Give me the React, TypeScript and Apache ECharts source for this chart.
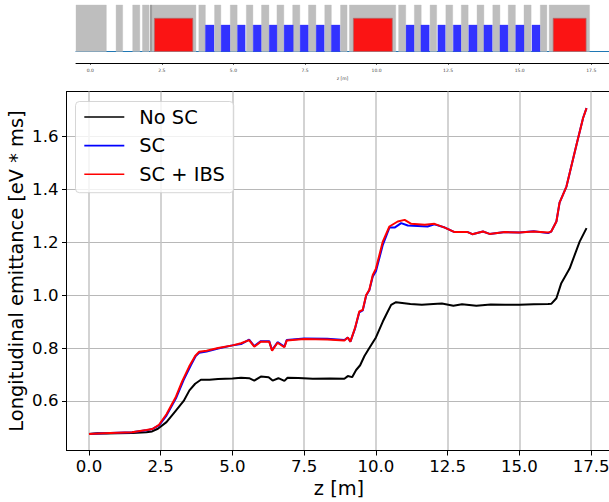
import React, { useEffect, useRef } from "react";
import * as echarts from "echarts";

const xTicks = [0, 2.5, 5, 7.5, 10, 12.5, 15, 17.5];
const yTicks = [0.6, 0.8, 1.0, 1.2, 1.4, 1.6];

const noScZ = [0, 0.3, 0.6, 1, 1.5, 2, 2.2, 2.4, 2.7, 3, 3.3, 3.5, 3.7, 3.9, 4.2, 4.5, 5, 5.3, 5.58, 5.76, 5.99, 6.26, 6.4, 6.6, 6.81, 6.92, 7.3, 7.8, 8.4, 8.9, 9.02, 9.17, 9.31, 9.45, 9.6, 9.77, 10, 10.24, 10.4, 10.53, 10.7, 11.2, 11.6, 12, 12.3, 12.7, 13, 13.5, 14, 14.5, 15, 15.5, 16, 16.11, 16.29, 16.46, 16.75, 17.1, 17.34];
const noScValues = [0.475, 0.478, 0.477, 0.478, 0.479, 0.482, 0.485, 0.495, 0.52, 0.56, 0.6, 0.64, 0.665, 0.68, 0.68, 0.683, 0.685, 0.688, 0.686, 0.677, 0.692, 0.69, 0.677, 0.686, 0.676, 0.688, 0.687, 0.684, 0.685, 0.684, 0.694, 0.69, 0.717, 0.735, 0.77, 0.8, 0.84, 0.9, 0.935, 0.963, 0.973, 0.966, 0.963, 0.966, 0.968, 0.96, 0.965, 0.96, 0.964, 0.963, 0.963, 0.965, 0.966, 0.967, 0.988, 1.045, 1.1, 1.202, 1.253];

const scZ = [0, 0.5, 1, 1.5, 2, 2.2, 2.44, 2.7, 3.03, 3.3, 3.55, 3.72, 3.84, 4.1, 4.5, 5, 5.3, 5.58, 5.76, 5.99, 6.28, 6.38, 6.57, 6.81, 6.89, 7.5, 8.3, 8.9, 9.02, 9.11, 9.27, 9.42, 9.54, 9.66, 9.77, 9.89, 10, 10.24, 10.47, 10.65, 10.88, 11.11, 11.8, 12.04, 12.4, 12.74, 13.2, 13.36, 13.73, 13.96, 14.5, 15, 15.5, 16, 16.11, 16.29, 16.4, 16.64, 16.99, 17.22, 17.34];
const scValues = [0.475, 0.478, 0.48, 0.482, 0.489, 0.494, 0.508, 0.545, 0.61, 0.68, 0.735, 0.77, 0.782, 0.787, 0.798, 0.81, 0.815, 0.832, 0.807, 0.826, 0.826, 0.792, 0.822, 0.805, 0.83, 0.836, 0.835, 0.83, 0.84, 0.824, 0.873, 0.935, 0.942, 0.998, 1.018, 1.07, 1.09, 1.19, 1.255, 1.255, 1.272, 1.263, 1.259, 1.267, 1.255, 1.238, 1.238, 1.23, 1.24, 1.231, 1.238, 1.236, 1.241, 1.234, 1.24, 1.278, 1.349, 1.41, 1.568, 1.669, 1.706];

const ibsZ = [0, 0.5, 1, 1.5, 2, 2.21, 2.44, 2.7, 3.03, 3.25, 3.49, 3.7, 3.84, 4.1, 4.5, 5, 5.3, 5.58, 5.76, 5.99, 6.28, 6.38, 6.57, 6.81, 6.89, 7.5, 8.3, 8.9, 9.02, 9.11, 9.27, 9.42, 9.54, 9.66, 9.77, 9.89, 10, 10.24, 10.47, 10.76, 11, 11.23, 11.7, 12.04, 12.4, 12.74, 13.2, 13.36, 13.73, 13.96, 14.5, 15, 15.5, 16, 16.11, 16.29, 16.4, 16.64, 16.99, 17.22, 17.34];
const ibsValues = [0.475, 0.478, 0.48, 0.482, 0.49, 0.494, 0.51, 0.55, 0.616, 0.675, 0.73, 0.77, 0.786, 0.79, 0.8, 0.81, 0.818, 0.83, 0.805, 0.824, 0.824, 0.79, 0.82, 0.803, 0.828, 0.834, 0.832, 0.828, 0.84, 0.824, 0.875, 0.938, 0.944, 1.0, 1.02, 1.076, 1.1, 1.202, 1.259, 1.278, 1.284, 1.269, 1.266, 1.269, 1.255, 1.238, 1.238, 1.23, 1.24, 1.231, 1.238, 1.236, 1.24, 1.236, 1.24, 1.278, 1.349, 1.41, 1.568, 1.669, 1.706];

const grayStarts = [-0.5, 0.9, 1.48, 1.82, 2.09, 3.79, 4.34, 4.89, 5.45, 5.98, 6.52, 7.07, 7.62, 8.19, 8.74, 9.05, 10.77, 11.32, 11.87, 12.42, 12.96, 13.51, 14.06, 14.6, 15.15, 15.72, 16.03];
const grayEnds = [0.56, 1.13, 1.73, 2.05, 3.69, 4.02, 4.56, 5.13, 5.68, 6.24, 6.76, 7.32, 7.88, 8.42, 8.97, 10.67, 11.02, 11.56, 12.1, 12.66, 13.2, 13.75, 14.31, 14.85, 15.4, 15.95, 17.44];
const darkStarts = [2.09];
const darkEnds = [2.15];
const redStarts = [2.24, 9.19, 16.17];
const redEnds = [3.58, 10.55, 17.32];
const blueStarts = [4.02, 4.57, 5.14, 5.69, 6.25, 6.77, 7.33, 7.89, 8.42, 11.03, 11.55, 12.14, 12.68, 13.22, 13.75, 14.31, 14.86, 15.43];
const blueEnds = [4.32, 4.88, 5.41, 5.97, 6.52, 7.09, 7.61, 8.17, 8.72, 11.31, 11.84, 12.4, 12.95, 13.51, 14.04, 14.59, 15.15, 15.71];
const grayHeight = 1;
const redHeight = 0.714;
const blueHeight = 0.57;

const FONT = "DejaVu Sans";
const LABEL_SIZE = 19.4;
const TICK_SIZE = 16.6;

function zip(a: number[], b: number[]) {
  return a.map((v, i) => [v, b[i]]);
}

function boxes(name: string, starts: number[], ends: number[], h: number, fill: string, stroke: string) {
  return {
    type: "custom",
    name,
    xAxisIndex: 1,
    yAxisIndex: 1,
    silent: true,
    encode: { x: [0, 1], y: 2 },
    data: starts.map((s, i) => [s, ends[i], h]),
    renderItem: (_: any, api: any) => {
      const p0 = api.coord([api.value(0), api.value(2)]);
      const p1 = api.coord([api.value(1), 0]);
      return {
        type: "rect",
        shape: { x: p0[0], y: p0[1], width: p1[0] - p0[0], height: p1[1] - p0[1] },
        style: { fill, stroke, lineWidth: 1 },
      };
    },
  };
}

export default function App() {
  const ref = useRef<HTMLDivElement>(null);
  useEffect(() => {
    document.body.style.margin = "0";
    const chart = echarts.init(ref.current!, undefined, { renderer: "svg" });
    const line = (name: string, z: number[], v: number[], color: string) => ({
      type: "line",
      name,
      xAxisIndex: 0,
      yAxisIndex: 0,
      data: zip(z, v),
      showSymbol: false,
      symbol: "none",
      smooth: false,
      lineStyle: { color, width: 2 },
      itemStyle: { color },
      z: 3,
    });
    chart.setOption({
      animation: false,
      textStyle: { fontFamily: FONT },
      grid: [
        { left: 66.5, top: 91.5, width: 545, height: 359, show: true, borderColor: "#000", borderWidth: 1, backgroundColor: "transparent", outerBoundsMode: "none" },
        { left: 76, top: 5, width: 533, height: 46.5, outerBoundsMode: "none" },
      ],
      legend: {
        left: 75.5,
        top: 101.5,
        orient: "vertical",
        data: ["No SC", "SC", "SC + IBS"],
        itemWidth: 40,
        itemHeight: 14,
        itemGap: 9.6,
        padding: [6, 9, 9, 8],
        backgroundColor: "rgba(255,255,255,0.8)",
        borderColor: "rgba(204,204,204,0.8)",
        borderWidth: 1,
        borderRadius: 4,
        itemStyle: { opacity: 0 },
        lineStyle: { width: 1.6 },
        textStyle: { fontFamily: FONT, fontSize: LABEL_SIZE, color: "#000", padding: [0, 0, 0, 10] },
      },
      xAxis: [
        {
          gridIndex: 0,
          type: "value",
          min: -0.784,
          max: 18.21,
          name: "z [m]",
          nameLocation: "middle",
          nameGap: 28,
          nameMoveOverlap: false,
          nameTextStyle: { fontFamily: FONT, fontSize: LABEL_SIZE, color: "#000" },
          axisLine: { onZero: false, lineStyle: { color: "#000", width: 1 } },
          axisTick: { show: true, customValues: xTicks, length: 5, lineStyle: { color: "#000", width: 1 } },
          axisLabel: { customValues: xTicks, fontFamily: FONT, fontSize: TICK_SIZE, color: "#000", margin: 7, formatter: (v: number) => v.toFixed(1), hideOverlap: false },
          splitLine: { show: true, lineStyle: { color: "#c4c4c4", width: 1.5 } },
        },
        {
          gridIndex: 1,
          type: "value",
          min: -0.5,
          max: 18.12,
          position: "bottom",
          axisLine: { onZero: false, lineStyle: { color: "#1f77b4", width: 1 } },
          axisTick: { show: false },
          axisLabel: { show: false },
          splitLine: { show: false },
        },
        {
          gridIndex: 1,
          type: "value",
          min: -0.5,
          max: 18.12,
          position: "bottom",
          offset: 12,
          name: "z [m]",
          nameLocation: "middle",
          nameGap: 12,
          nameTextStyle: { fontFamily: FONT, fontSize: 4.5, color: "#444" },
          axisLine: { onZero: false, lineStyle: { color: "#000", width: 1 } },
          axisTick: { show: true, customValues: xTicks, length: 1.5, lineStyle: { color: "#000", width: 0.6 } },
          axisLabel: { customValues: xTicks, fontFamily: FONT, fontSize: 4.5, color: "#444", margin: 4, formatter: (v: number) => v.toFixed(1) },
          splitLine: { show: false },
        },
      ],
      yAxis: [
        {
          gridIndex: 0,
          type: "value",
          min: 0.4129,
          max: 1.769,
          name: "Longitudinal emittance [eV * ms]",
          nameLocation: "middle",
          nameGap: 40.3,
          nameMoveOverlap: false,
          nameTextStyle: { fontFamily: FONT, fontSize: LABEL_SIZE, color: "#000" },
          axisLine: { onZero: false, lineStyle: { color: "#000", width: 1 } },
          axisTick: { show: true, customValues: yTicks, length: 4.5, lineStyle: { color: "#000", width: 1 } },
          axisLabel: { customValues: yTicks, fontFamily: FONT, fontSize: TICK_SIZE, color: "#000", margin: 8, formatter: (v: number) => v.toFixed(1) },
          splitLine: { show: true, lineStyle: { color: "#b8b8b8", width: 1 } },
        },
        {
          gridIndex: 1,
          type: "value",
          min: 0,
          max: 1,
          show: false,
        },
      ],
      series: [
        boxes("gray", grayStarts, grayEnds, grayHeight, "#bebebe", "rgba(190,190,190,0.35)"),
        boxes("dark", darkStarts, darkEnds, grayHeight, "#9a9a9a", "rgba(154,154,154,0.2)"),
        boxes("red", redStarts, redEnds, redHeight, "#fb1414", "rgba(170,110,110,0.7)"),
        boxes("blue", blueStarts, blueEnds, blueHeight, "#3232ff", "rgba(50,50,255,0.3)"),
        line("No SC", noScZ, noScValues, "#000000"),
        line("SC", scZ, scValues, "#0000ff"),
        line("SC + IBS", ibsZ, ibsValues, "#ff0000"),
      ],
    });
    return () => chart.dispose();
  }, []);
  return <div ref={ref} style={{ width: 609, height: 502, overflow: "hidden" }} />;
}
